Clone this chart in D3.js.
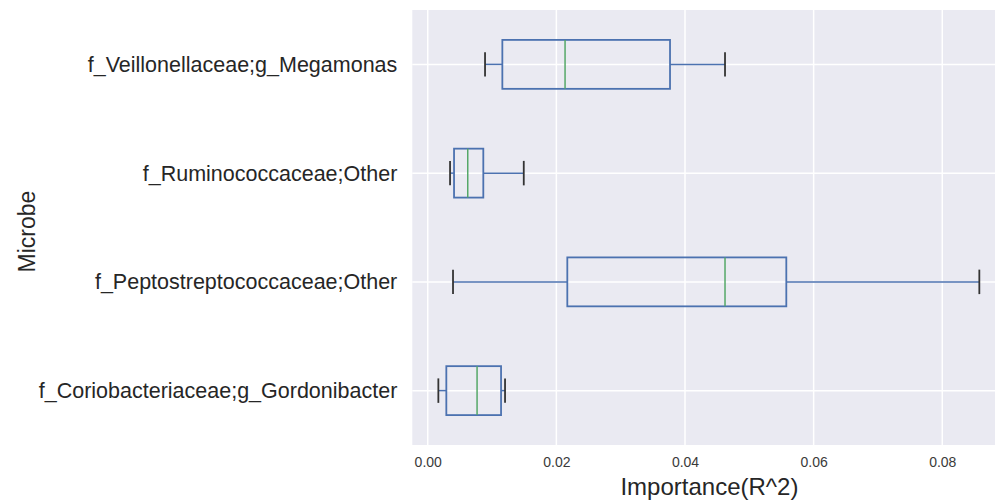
<!DOCTYPE html>
<html>
<head>
<meta charset="utf-8">
<script src="https://cdn.jsdelivr.net/npm/d3@7"></script>
<style>
  body { margin: 0; background: #fff; }
  svg { display: block; }
  text { font-family: "Liberation Sans", Arial, sans-serif; }
</style>
</head>
<body>
<svg id="chart" width="995" height="502"></svg>
<script>
// Categories, bottom to top (matplotlib positions 1..4)
const categories = [
  "f_Coriobacteriaceae;g_Gordonibacter",
  "f_Peptostreptococcaceae;Other",
  "f_Ruminococcaceae;Other",
  "f_Veillonellaceae;g_Megamonas"
];
const whiskerLow  = [0.00165, 0.00393, 0.00347, 0.00891];
const q1Values    = [0.00289, 0.02170, 0.00409, 0.01160];
const medians     = [0.00767, 0.04622, 0.00622, 0.02135];
const q3Values    = [0.01140, 0.05575, 0.00864, 0.03767];
const whiskerHigh = [0.01202, 0.08576, 0.01493, 0.04622];
const xTicks = [0.00, 0.02, 0.04, 0.06, 0.08];
const xLabel = "Importance(R^2)";
const yLabel = "Microbe";

const svg = d3.select("#chart");
const plot = { left: 412.3, top: 10, right: 1006.6, bottom: 445 };

const x = d3.scaleLinear().domain([-0.0024, 0.09]).range([plot.left, plot.right]);
const y = d3.scaleLinear().domain([0.5, 4.5]).range([plot.bottom, plot.top]);

const boxW = 0.45, capW = 0.225;
const blue = "#4C72B0", green = "#55A868", capColor = "#333333";

// background
svg.append("rect")
  .attr("x", plot.left).attr("y", plot.top)
  .attr("width", plot.right - plot.left).attr("height", plot.bottom - plot.top)
  .attr("fill", "#EAEAF2");

// grid
const g = svg.append("g");
g.selectAll("line.vx").data(xTicks).join("line")
  .attr("x1", d => x(d)).attr("x2", d => x(d))
  .attr("y1", plot.top).attr("y2", plot.bottom)
  .attr("stroke", "#fff").attr("stroke-width", 1.5);
g.selectAll("line.hy").data(categories).join("line")
  .attr("x1", plot.left).attr("x2", plot.right)
  .attr("y1", (d, i) => y(i + 1)).attr("y2", (d, i) => y(i + 1))
  .attr("stroke", "#fff").attr("stroke-width", 1.5);

// boxes
const data = categories.map((c, i) => ({
  c, pos: i + 1, lo: whiskerLow[i], q1: q1Values[i], med: medians[i], q3: q3Values[i], hi: whiskerHigh[i]
}));
const bx = svg.append("g").selectAll("g").data(data).join("g");

// whiskers
bx.append("line")
  .attr("x1", d => x(d.lo)).attr("x2", d => x(d.q1))
  .attr("y1", d => y(d.pos)).attr("y2", d => y(d.pos))
  .attr("stroke", blue).attr("stroke-width", 1.5);
bx.append("line")
  .attr("x1", d => x(d.q3)).attr("x2", d => x(d.hi))
  .attr("y1", d => y(d.pos)).attr("y2", d => y(d.pos))
  .attr("stroke", blue).attr("stroke-width", 1.5);
// caps
bx.append("line")
  .attr("x1", d => x(d.lo)).attr("x2", d => x(d.lo))
  .attr("y1", d => y(d.pos + capW / 2)).attr("y2", d => y(d.pos - capW / 2))
  .attr("stroke", capColor).attr("stroke-width", 1.8);
bx.append("line")
  .attr("x1", d => x(d.hi)).attr("x2", d => x(d.hi))
  .attr("y1", d => y(d.pos + capW / 2)).attr("y2", d => y(d.pos - capW / 2))
  .attr("stroke", capColor).attr("stroke-width", 1.8);
// box
bx.append("rect")
  .attr("x", d => x(d.q1)).attr("width", d => x(d.q3) - x(d.q1))
  .attr("y", d => y(d.pos + boxW / 2)).attr("height", d => y(d.pos - boxW / 2) - y(d.pos + boxW / 2))
  .attr("fill", "none").attr("stroke", blue).attr("stroke-width", 1.8);
// median
bx.append("line")
  .attr("x1", d => x(d.med)).attr("x2", d => x(d.med))
  .attr("y1", d => y(d.pos + boxW / 2)).attr("y2", d => y(d.pos - boxW / 2))
  .attr("stroke", green).attr("stroke-width", 1.5);

// x axis
const xAxis = d3.axisBottom(x).tickValues(xTicks).tickFormat(d3.format(".2f")).tickSize(0).tickPadding(12);
const xa = svg.append("g").attr("transform", `translate(0,${plot.bottom})`).call(xAxis);
xa.select(".domain").remove();
xa.selectAll("text").attr("font-size", 14).attr("fill", "#3a3a3a")
  .attr("font-family", "'Liberation Sans', Arial, sans-serif");

// y axis
const yAxis = d3.axisLeft(y).tickValues([1, 2, 3, 4]).tickFormat(d => categories[d - 1]).tickSize(0).tickPadding(15);
const ya = svg.append("g").attr("transform", `translate(${plot.left},0)`).call(yAxis);
ya.select(".domain").remove();
ya.selectAll("text").attr("font-size", 21.5).attr("fill", "#262626")
  .attr("font-family", "'Liberation Sans', Arial, sans-serif");

// axis labels
svg.append("text")
  .attr("x", (plot.left + plot.right) / 2).attr("y", 495)
  .attr("text-anchor", "middle").attr("font-size", 24).attr("fill", "#262626")
  .text(xLabel);
svg.append("text")
  .attr("transform", `translate(35,${(plot.top + plot.bottom) / 2 + 4}) rotate(-90)`)
  .attr("text-anchor", "middle").attr("font-size", 23).attr("fill", "#262626")
  .text(yLabel);
</script>
</body>
</html>
